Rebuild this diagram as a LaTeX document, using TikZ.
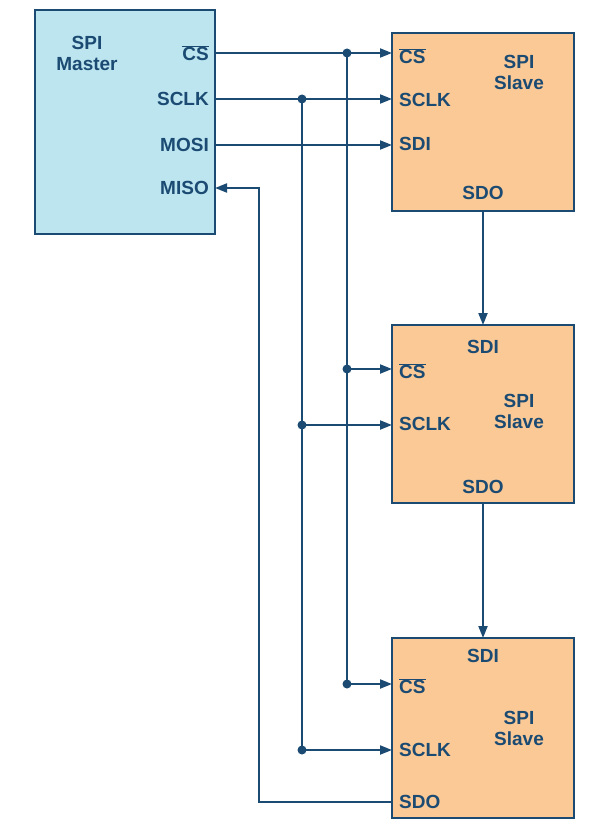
\documentclass[tikz,border=0pt]{standalone}
\usepackage{fontspec}
\setmainfont{Liberation Sans}
\usetikzlibrary{positioning,calc,arrows.meta}
\definecolor{wire}{HTML}{1B4A72}
\definecolor{mfill}{HTML}{BDE5F0}
\definecolor{sfill}{HTML}{FBC995}
\tikzset{
  box/.style={draw=wire,line width=2pt,inner sep=0pt},
  pin/.style={text=wire,font=\fontsize{19}{21}\selectfont\bfseries,inner sep=1pt},
  sig/.style={wire,line width=2pt,-{Triangle[length=12pt,width=9pt]}},
  bus/.style={wire,line width=2pt},
  dot/.style={circle,fill=wire,inner sep=0pt,minimum size=9pt}
}
\begin{document}
\begin{tikzpicture}[x=1pt,y=-1pt]
    \useasboundingbox (0,0) rectangle (612,829);

    % Master
    \draw[box,fill=mfill] (35,10) rectangle (215,234);
    \node[pin,align=center] at (87,53) {SPI\\Master};
    \node[pin,anchor=east] (mcs) at (210,53) {$\overline{\textbf{CS}}$};
    \node[pin,anchor=east] (msclk) at (210,99) {SCLK};
    \node[pin,anchor=east] (mmosi) at (210,145) {MOSI};
    \node[pin,anchor=east] (mmiso) at (210,188) {MISO};

    % Slaves
    \foreach \n/\t/\b in {1/33/211,2/325/503,3/638/818} {
        \draw[box,fill=sfill] (392,\t) rectangle (574,\b);
    }
    \node[pin,align=center] at (519,72) {SPI\\Slave};
    \node[pin,align=center] at (519,411) {SPI\\Slave};
    \node[pin,align=center] at (519,728) {SPI\\Slave};

    \node[pin,anchor=west] (acs) at (398,56) {$\overline{\textbf{CS}}$};
    \node[pin,anchor=west] (asclk) at (398,100) {SCLK};
    \node[pin,anchor=west] (asdi) at (398,144) {SDI};
    \node[pin] (asdo) at (483,193) {SDO};

    \node[pin] (bsdi) at (483,347) {SDI};
    \node[pin,anchor=west] (bcs) at (398,371) {$\overline{\textbf{CS}}$};
    \node[pin,anchor=west] (bsclk) at (398,424) {SCLK};
    \node[pin] (bsdo) at (483,487) {SDO};

    \node[pin] (csdi) at (483,656) {SDI};
    \node[pin,anchor=west] (ccs) at (398,686) {$\overline{\textbf{CS}}$};
    \node[pin,anchor=west] (csclk) at (398,750) {SCLK};
    \node[pin,anchor=west] (csdo) at (398,802) {SDO};

    % Chip select bus
    \coordinate (cs1) at (347,53);
    \coordinate (cs2) at (347,369);
    \coordinate (cs3) at (347,684);
    \draw[sig] (215,53) -- (392,53);
    \draw[bus] (cs1) -- (cs3);
    \draw[sig] (cs2) -- (392,369);
    \draw[sig] (cs3) -- (392,684);

    % Clock bus
    \coordinate (ck1) at (302,99);
    \coordinate (ck2) at (302,425);
    \coordinate (ck3) at (302,750);
    \draw[sig] (215,99) -- (392,99);
    \draw[bus] (ck1) -- (ck3);
    \draw[sig] (ck2) -- (392,425);
    \draw[sig] (ck3) -- (392,750);

    \foreach \d in {cs1,cs2,cs3,ck1,ck2,ck3} \node[dot] at (\d) {};

    % Data chain
    \draw[sig] (215,145) -- (392,145);
    \draw[sig] (483,211) -- (483,325);
    \draw[sig] (483,503) -- (483,638);
    \draw[sig] (392,802) -- (259,802) -- (259,188) -- (215,188);
\end{tikzpicture}
\end{document}
